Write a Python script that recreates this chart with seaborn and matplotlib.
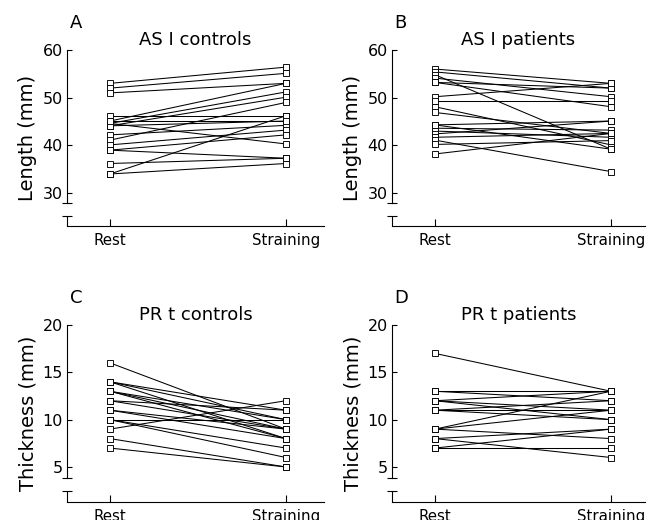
import numpy as np
import pandas as pd
import seaborn as sns
import matplotlib.pyplot as plt

phase_labels = ['Rest', 'Straining']

asl_controls_rest = [53, 52, 51, 46.2, 45.1, 44.6, 44.1, 44.6, 44.1, 42.2, 41.1, 40.1, 39, 39, 36.2, 34, 34, 45.1]
asl_controls_strain = [56.4, 55.1, 53, 46.2, 53, 51.2, 50.1, 40.3, 45.1, 44.2, 49, 43.2, 42.2, 37.3, 37.3, 36.2, 46.2, 45.1]

asl_patients_rest = [56, 55.4, 54.8, 54.1, 53.2, 53.2, 50.2, 49.2, 48.1, 46.9, 44.3, 43.6, 43, 42.4, 41.7, 41.1, 40.2, 38.2, 44.3]
asl_patients_strain = [53, 52, 39.2, 50.2, 52, 48.1, 53, 49.2, 40.1, 42.5, 45.1, 43.2, 41.7, 45.1, 42.5, 34.5, 41, 42.5, 39.2]

prt_controls_rest = [16, 14, 14, 14, 13, 13, 13, 12, 12, 11, 11, 10, 10, 10, 9, 8, 7]
prt_controls_strain = [9, 11, 8, 10, 10, 8, 9, 11, 9, 9, 8, 10, 7, 6, 12, 5, 5]

prt_patients_rest = [17, 13, 13, 12, 12, 12, 11, 11, 11, 9, 9, 9, 8, 8, 7, 7]
prt_patients_strain = [13, 13, 12, 13, 11, 10, 11, 10, 12, 13, 11, 8, 9, 6, 7, 9]

length_ticks = [30, 40, 50, 60]
thickness_ticks = [5, 10, 15, 20]

sns.set_style('ticks', {'axes.edgecolor': 'black', 'text.color': 'black',
                        'axes.labelcolor': 'black', 'xtick.color': 'black',
                        'ytick.color': 'black'})
plt.rcParams['font.family'] = ['DejaVu Sans']


# draw one rest/straining panel with a broken y axis
def draw_panel(ax, rest, strain, title, letter, ylabel, ylim, yticks, brk, xlim):

    n = len(rest)
    df = pd.DataFrame({'subject': list(range(n)) * 2,
                       'phase': [0] * n + [1] * n,
                       'value': rest + strain})

    sns.lineplot(data=df, x='phase', y='value', units='subject', estimator=None,
                 color='black', lw=0.75, marker='s', ms=3.8, mfc='white',
                 mec='black', mew=0.65, ax=ax, legend=False)

    ax.set_xlim(xlim)
    ax.set_ylim(ylim)
    ax.set_xticks([0, 1])
    ax.set_xticklabels(phase_labels, fontsize=10.8)
    ax.set_yticks(yticks)
    ax.set_yticklabels([str(t) for t in yticks], fontsize=11.5)
    ax.set_xlabel('')
    ax.set_ylabel(ylabel, fontsize=14)
    width_px = ax.get_position().width * ax.figure.bbox.width
    ax.yaxis.set_label_coords(-30 / width_px, 0.5)
    ax.set_title(title, fontsize=13, pad=3.5)

    for s in ['top', 'right']:
        ax.spines[s].set_visible(False)
    for s in ['left', 'bottom']:
        ax.spines[s].set_linewidth(0.8)
    ax.spines['left'].set_bounds(brk[0], ylim[1])

    # lower stub of the broken axis
    ax.plot([0, 0], [ylim[0], brk[1]], transform=ax.get_yaxis_transform(),
            color='black', lw=0.8, clip_on=False)
    ax.set_yticks(brk, minor=True)
    ax.tick_params(axis='y', which='minor', direction='inout', length=6.5, width=0.8)
    ax.tick_params(axis='y', which='major', direction='in', length=3.8, width=0.8, pad=3)
    ax.tick_params(axis='x', which='major', direction='in', length=5, width=0.8, pad=5)

    pos = ax.get_position()
    ax.figure.text(pos.x0 + 0.004, pos.y1 + 0.042, letter, fontsize=13, ha='left', va='baseline')


fig = plt.figure(figsize=(6.57, 5.2), dpi=100)
ax_a = fig.add_axes([0.102, 0.5654, 0.391, 0.3385])
ax_b = fig.add_axes([0.5967, 0.5654, 0.385, 0.3385])
ax_c = fig.add_axes([0.102, 0.0346, 0.391, 0.3404])
ax_d = fig.add_axes([0.5967, 0.0346, 0.385, 0.3404])

draw_panel(ax_a, asl_controls_rest, asl_controls_strain, 'AS I controls', 'A', 'Length (mm)',
           (23.1, 60), length_ticks, [27.9, 25.2], (-0.244, 1.216))
draw_panel(ax_b, asl_patients_rest, asl_patients_strain, 'AS I patients', 'B', 'Length (mm)',
           (23.1, 60), length_ticks, [27.9, 25.2], (-0.244, 1.193))
draw_panel(ax_c, prt_controls_rest, prt_controls_strain, 'PR t controls', 'C', 'Thickness (mm)',
           (1.3, 20), thickness_ticks, [3.85, 2.5], (-0.244, 1.216))
draw_panel(ax_d, prt_patients_rest, prt_patients_strain, 'PR t patients', 'D', 'Thickness (mm)',
           (1.3, 20), thickness_ticks, [3.85, 2.5], (-0.244, 1.193))

fig.savefig('out.png', dpi=100)
